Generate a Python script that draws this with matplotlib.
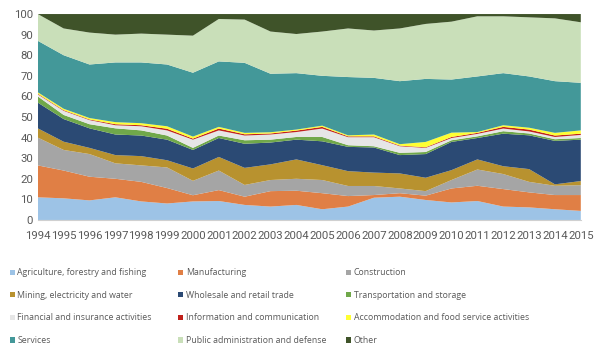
import numpy as np
import matplotlib.pyplot as plt

plt.rcParams['font.family'] = ['Open Sans', 'DejaVu Sans']

years = list(range(1994, 2016))

# participación por sector (%)
agri = [11, 10.5, 9.5, 11, 9, 8, 9, 9.2, 7.3, 6.5, 7.3, 5.2, 6.5, 10.8, 11.3, 9.7, 8.5, 9.2, 6.5, 6.1, 5.2, 4.4]
manu = [15.5, 13.5, 11.5, 9, 9.5, 7.5, 3, 5.3, 4, 7.5, 6.9, 7.8, 5.1, 1.3, 1.7, 2.1, 6.8, 7.4, 8.5, 7.3, 6.9, 7.7]
constr = [13.5, 10, 11, 7.5, 8, 10, 7, 9.5, 5.7, 5.4, 5.8, 6.4, 4.9, 4.4, 2.3, 2.2, 4.1, 7.9, 7.3, 5.1, 4.5, 4.8]
mining = [4.5, 4, 3, 4, 4.5, 3.5, 6, 6.6, 8.3, 7.6, 9.4, 7.2, 7.2, 6.5, 7.3, 6.5, 4.8, 4.9, 3.8, 6.2, 0.7, 2]
wholesale = [12.5, 11, 9.5, 10, 10, 10, 9, 9.2, 11.7, 10.6, 9.6, 11.6, 11.8, 12.2, 8.9, 11.5, 13.7, 10.4, 15.8, 16.4, 21.1, 20.1]
transport = [3, 2, 2, 3, 2.5, 2, 1, 1.2, 1.7, 1.4, 1.3, 2.1, 0.8, 0.6, 1.1, 1, 0.8, 0.8, 1.2, 0.9, 0.8, 0.8]
financial = [1, 2, 2, 1.5, 2, 2.5, 4, 2.5, 2.3, 2.5, 2.4, 4.1, 3.9, 4.4, 3.2, 2, 1.1, 1.2, 1.3, 1, 1.1, 1.5]
info = [0.3, 0.3, 0.3, 0.5, 0.5, 0.8, 0.5, 0.9, 0.6, 0.5, 0.7, 0.8, 0.4, 0.4, 0.3, 0.3, 0.5, 0.5, 0.8, 0.9, 0.7, 0.6]
accom = [0.7, 0.7, 0.7, 1, 1, 1.2, 1, 0.8, 0.7, 0.6, 0.5, 0.6, 0.5, 0.9, 0.7, 2.6, 2.1, 0.4, 0.8, 0.9, 1.3, 1.6]
services = [25, 26, 26, 29, 29.5, 30, 31, 31.8, 34, 28.4, 27.4, 24.2, 28.3, 27.5, 30.6, 30.6, 25.8, 27, 25.3, 24.9, 25.1, 23.1]
public = [13, 13, 15.5, 13.5, 14, 14.5, 18, 20.6, 21, 20.5, 19, 21.5, 23.6, 23, 25.6, 26.7, 28.1, 29.2, 27.6, 28.7, 30.5, 29.4]
other = [0, 7, 9, 10, 9.5, 10, 10.5, 2.4, 2.7, 8.5, 9.7, 8.5, 7, 8, 7, 4.8, 3.7, 1.1, 1.1, 1.6, 2.1, 4]

labels = ['Agriculture, forestry and fishing', 'Manufacturing', 'Construction',
          'Mining, electricity and water', 'Wholesale and retail trade', 'Transportation and storage',
          'Financial and insurance activities', 'Information and communication',
          'Accommodation and food service activities', 'Services',
          'Public administration and defense', 'Other']
colors = ['#9dc3e6', '#e07f45', '#a5a5a5', '#b8922f', '#2b4a74', '#70a84a',
          '#e6e6e6', '#c0201a', '#ffff33', '#439899', '#c9dfb9', '#3f5329']

fig = plt.figure(figsize=(6, 3.6), dpi=100)
ax = fig.add_axes([0.063, 0.389, 0.905, 0.572])

polys = ax.stackplot(years, agri, manu, constr, mining, wholesale, transport, financial,
                     info, accom, services, public, other, colors=colors, labels=labels, linewidth=0)

ax.set_xlim(1994, 2015)
ax.set_ylim(0, 100)
ax.set_xticks(years)
ax.set_yticks(range(0, 101, 10))
ax.tick_params(axis='both', length=0, labelsize=8.2, colors='#595959')
ax.tick_params(axis='x', pad=8)
for lab in ax.get_xticklabels() + ax.get_yticklabels():
    lab.set_family('Roboto')
for s in ['top', 'right', 'left']:
    ax.spines[s].set_visible(False)
ax.spines['bottom'].set_color('#d0d0d0')

# leyenda en 3 columnas, orden por filas
col_x = [0.012, 0.293, 0.573]
for c in range(3):
    idx = [c, c + 3, c + 6, c + 9]
    fig.legend([polys[i] for i in idx], [labels[i] for i in idx],
               loc='upper left', bbox_to_anchor=(col_x[c], 0.262), frameon=False,
               fontsize=6.3, labelcolor='#595959', handlelength=0.55, handleheight=0.55,
               handletextpad=0.3, labelspacing=1.55, borderaxespad=0, borderpad=0.3)

fig.savefig('out.png')
